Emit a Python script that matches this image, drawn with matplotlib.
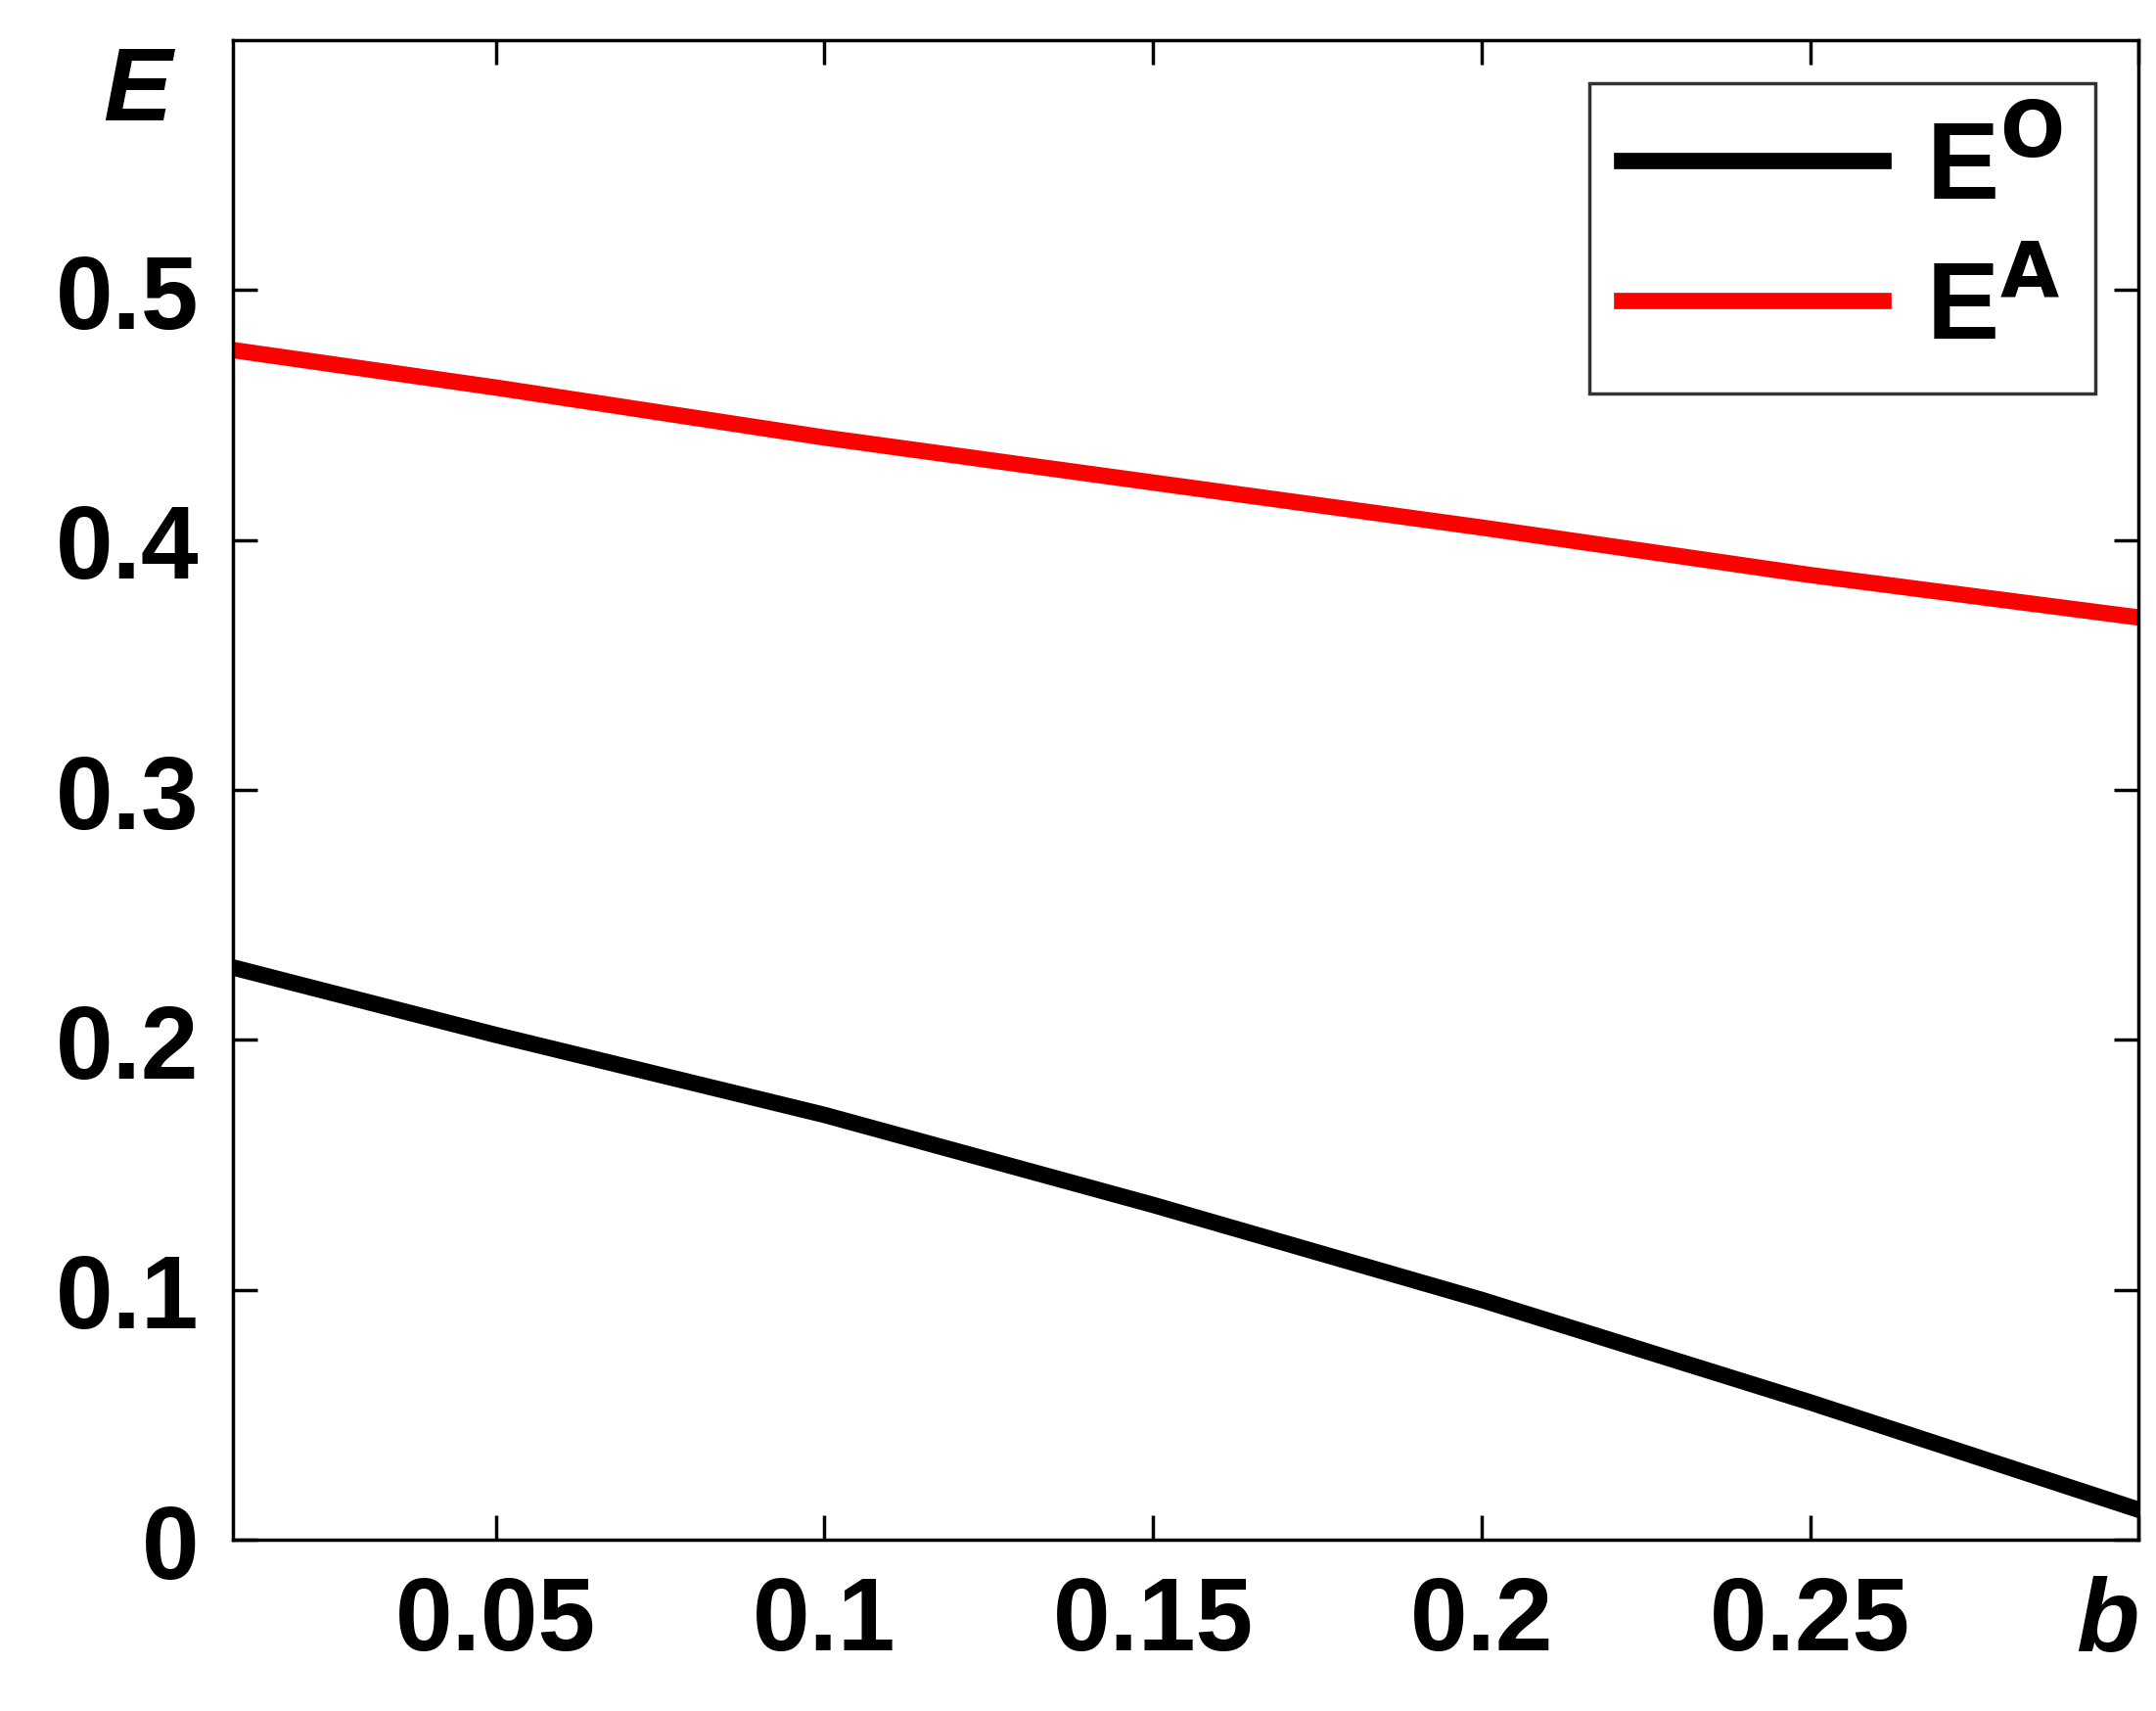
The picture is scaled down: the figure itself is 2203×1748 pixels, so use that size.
import matplotlib
matplotlib.use("Agg")
import matplotlib.pyplot as plt

plt.rcParams["font.family"] = ["Liberation Sans", "DejaVu Sans"]
plt.rcParams["font.weight"] = "bold"

# 读图估计的数据点
b = [0.01, 0.05, 0.1, 0.15, 0.2, 0.25, 0.3]
e_o = [0.229, 0.202, 0.170, 0.134, 0.096, 0.055, 0.012]
e_a = [0.476, 0.461, 0.441, 0.423, 0.405, 0.386, 0.369]

x_ticks = [0.05, 0.1, 0.15, 0.2, 0.25, 0.3]
x_labels = ["0.05", "0.1", "0.15", "0.2", "0.25", "b"]
y_ticks = [0, 0.1, 0.2, 0.3, 0.4, 0.5]
y_labels = ["0", "0.1", "0.2", "0.3", "0.4", "0.5"]

fig = plt.figure(figsize=(22.03, 17.49), dpi=100)
ax = fig.add_axes([0.108, 0.1, 0.884, 0.876])

ax.plot(b, e_o, color="black", linewidth=12, label="E$^{\\mathsf{O}}$")
ax.plot(b, e_a, color="red", linewidth=12, label="E$^{\\mathsf{A}}$")

ax.set_xlim(0.01, 0.3)
ax.set_ylim(0, 0.6)
ax.set_xticks(x_ticks)
ax.set_xticklabels(x_labels)
ax.set_yticks(y_ticks)
ax.set_yticklabels(y_labels)
ax.tick_params(direction="in", length=18, width=2.5, labelsize=76,
               top=True, right=True, pad=25)
last = ax.get_xticklabels()[-1]
last.set_style("italic")
last.set_ha("right")
for s in ax.spines.values():
    s.set_linewidth(2.5)

ax.text(-0.05, 0.965, "E", transform=ax.transAxes, fontsize=76, style="italic",
        ha="center", va="center")

leg = ax.legend(loc="upper right", fontsize=80, frameon=True, fancybox=False,
                edgecolor="black", handlelength=2.4, handletextpad=0.4,
                borderaxespad=0.4, borderpad=0.3, labelspacing=0.35)
leg.get_frame().set_linewidth(2.5)

fig.savefig("out.png", dpi=100)
